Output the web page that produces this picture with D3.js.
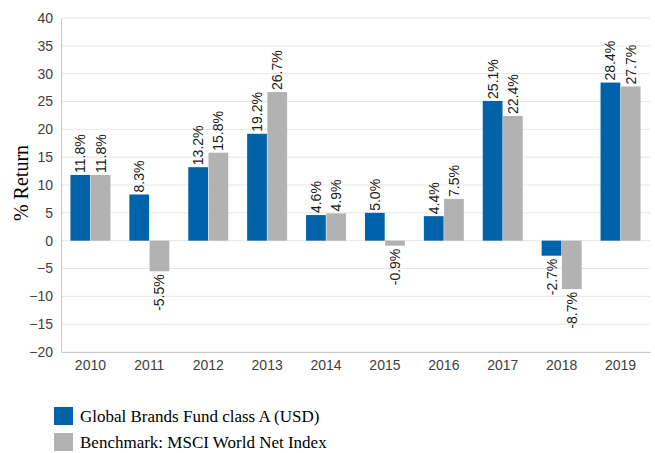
<!DOCTYPE html>
<html>
<head>
<meta charset="utf-8">
<script src="https://cdn.jsdelivr.net/npm/d3@7"></script>
<style>
  html, body { margin: 0; padding: 0; background: #fff; }
  #chart { width: 655px; height: 453px; }
</style>
</head>
<body>
<div id="chart"></div>
<script>
const years = ["2010", "2011", "2012", "2013", "2014", "2015", "2016", "2017", "2018", "2019"];
const fundValues = [11.8, 8.3, 13.2, 19.2, 4.6, 5.0, 4.4, 25.1, -2.7, 28.4];
const benchValues = [11.8, -5.5, 15.8, 26.7, 4.9, -0.9, 7.5, 22.4, -8.7, 27.7];
const yTicks = [-20, -15, -10, -5, 0, 5, 10, 15, 20, 25, 30, 35, 40];
const seriesNames = ["Global Brands Fund class A (USD)", "Benchmark: MSCI World Net Index"];
const seriesColors = ["#0062a8", "#b2b2b2"];

const W = 655, H = 453;
const margin = { top: 18, right: 5, bottom: 101, left: 61 };
const width = W - margin.left - margin.right;
const height = H - margin.top - margin.bottom;

const svg = d3.select("#chart").append("svg")
  .attr("width", W)
  .attr("height", H);

const g = svg.append("g")
  .attr("transform", `translate(${margin.left},${margin.top})`);

const x = d3.scaleBand().domain(years).range([0, width]).padding(0);
const barW = 20;
const inner = d3.scaleBand().domain([0, 1]).range([-barW - 0.5, barW + 0.5]).padding(0.025);

const y = d3.scaleLinear().domain([-20, 40]).range([height, 0]);

// grid
g.append("g")
  .selectAll("line")
  .data(yTicks)
  .join("line")
  .attr("x1", 0).attr("x2", width)
  .attr("y1", d => y(d)).attr("y2", d => y(d))
  .attr("stroke", "#e6e6e6")
  .attr("stroke-width", 1);

// y axis
const yAxis = g.append("g")
  .call(d3.axisLeft(y).tickValues(yTicks).tickSize(0).tickPadding(8));
yAxis.select(".domain").attr("stroke", "#c8c8c8");
yAxis.selectAll("text")
  .attr("font-family", "Liberation Sans, Arial, sans-serif")
  .attr("font-size", "14px")
  .attr("fill", "#404040");

// x axis
const xAxis = g.append("g")
  .attr("transform", `translate(0,${height})`)
  .call(d3.axisBottom(x).tickSize(0).tickPadding(8));
xAxis.select(".domain").attr("stroke", "#c8c8c8");
xAxis.selectAll("text")
  .attr("font-family", "Liberation Sans, Arial, sans-serif")
  .attr("font-size", "14px")
  .attr("fill", "#404040");

// bars
const rows = years.map((yr, i) => ({ yr, vals: [fundValues[i], benchValues[i]] }));
const groups = g.selectAll(".yr")
  .data(rows)
  .join("g")
  .attr("transform", d => `translate(${x(d.yr) + x.bandwidth() / 2},0)`);

groups.selectAll("rect")
  .data(d => d.vals.map((v, k) => ({ v, k })))
  .join("rect")
  .attr("x", d => inner(d.k))
  .attr("width", inner.bandwidth())
  .attr("y", d => y(Math.max(0, d.v)))
  .attr("height", d => Math.abs(y(d.v) - y(0)))
  .attr("fill", d => seriesColors[d.k]);

// value labels, rotated
groups.selectAll("text.val")
  .data(d => d.vals.map((v, k) => ({ v, k })))
  .join("text")
  .attr("class", "val")
  .attr("transform", d => {
    const cx = inner(d.k) + inner.bandwidth() / 2;
    const cy = d.v >= 0 ? y(d.v) - 2 : y(d.v) + 3;
    return `translate(${cx + 5},${cy}) rotate(-90)`;
  })
  .attr("text-anchor", d => d.v >= 0 ? "start" : "end")
  .attr("font-family", "Liberation Sans, Arial, sans-serif")
  .attr("font-size", "14px")
  .attr("fill", "#1a1a1a")
  .text(d => d.v.toFixed(1) + "%");

// y title
svg.append("text")
  .attr("transform", `translate(28,183) rotate(-90)`)
  .attr("text-anchor", "middle")
  .attr("font-family", "Liberation Serif, Times New Roman, serif")
  .attr("font-size", "20px")
  .attr("fill", "#000")
  .text("% Return");

// legend
const legend = svg.append("g").attr("transform", "translate(54,407)");
seriesNames.forEach((name, i) => {
  const row = legend.append("g").attr("transform", `translate(0,${i * 26})`);
  row.append("rect").attr("width", 19).attr("height", 18).attr("fill", seriesColors[i]);
  row.append("text")
    .attr("x", 26).attr("y", 15)
    .attr("font-family", "Liberation Serif, Times New Roman, serif")
    .attr("font-size", "17px")
    .attr("fill", "#000")
    .text(name);
});
</script>
</body>
</html>
